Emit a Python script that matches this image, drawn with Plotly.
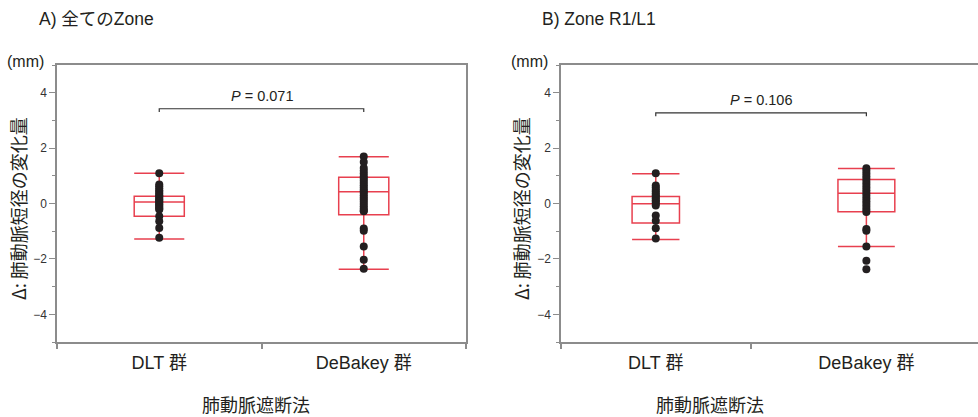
import plotly.graph_objects as go

W, H = 978, 417
FONT = "Liberation Sans, Arial, Noto Sans CJK JP, sans-serif"
JFONT = "Noto Sans CJK JP, Liberation Sans, sans-serif"
TXT = "#231f20"
AX = "#8c8c8c"
RED = "#e8404f"

categories = ["DLT 群", "DeBakey 群"]
panel_titles = ["A) 全てのZone", "B) Zone R1/L1"]
p_labels = ["<i>P</i> = 0.071", "<i>P</i> = 0.106"]
y_ticks = [-4, -2, 0, 2, 4]
y_minor = [-5, -3, -1, 1, 3, 5]
y_title = "Δ: 肺動脈短径の変化量"
x_title = "肺動脈遮断法"

# Box statistics [DLT, DeBakey] per panel
a_q1 = [-0.46, -0.41]
a_median = [0.05, 0.42]
a_q3 = [0.26, 0.95]
a_low = [-1.28, -2.37]
a_high = [1.09, 1.69]

b_q1 = [-0.70, -0.30]
b_median = [-0.01, 0.37]
b_q3 = [0.25, 0.87]
b_low = [-1.30, -1.55]
b_high = [1.07, 1.26]

# Individual points
a_dlt = [1.09, 0.69, 0.62, 0.55, 0.48, 0.42, 0.36, 0.30, 0.25, 0.20, 0.15, 0.10,
         0.06, 0.02, -0.03, -0.08, -0.13, -0.18, -0.22, -0.46, -0.64, -0.88, -1.24]
a_deb = [1.70, 1.50, 1.28, 1.18, 1.08, 0.98, 0.90, 0.82, 0.74, 0.66, 0.58, 0.50,
         0.44, 0.38, 0.30, 0.22, 0.14, 0.06, -0.02, -0.10, -0.18, -0.25, -0.28,
         -0.90, -0.98, -1.55, -2.03, -2.36]
b_dlt = [1.09, 0.65, 0.58, 0.50, 0.43, 0.36, 0.30, 0.24, 0.18, 0.12, 0.06, 0.00,
         -0.07, -0.43, -0.62, -0.89, -1.26]
b_deb = [1.27, 1.18, 1.08, 0.98, 0.88, 0.78, 0.68, 0.58, 0.48, 0.38, 0.28, 0.18,
         0.08, -0.02, -0.12, -0.22, -0.31, -0.92, -0.98, -1.55, -2.07, -2.37]

p_bracket_y = [3.42, 3.27]


def px(x):
    return x / W


def py(y):
    return 1 - y / H


fig = go.Figure()

panels = [
    dict(stats=(a_q1, a_median, a_q3, a_low, a_high), pts=(a_dlt, a_deb),
         xa="x", ya="y", widths=[0.245, 0.245]),
    dict(stats=(b_q1, b_median, b_q3, b_low, b_high), pts=(b_dlt, b_deb),
         xa="x2", ya="y2", widths=[0.225, 0.27]),
]

for p in panels:
    q1, med, q3, lo, hi = p["stats"]
    for i in range(2):
        fig.add_trace(go.Box(
            x=[i], q1=[q1[i]], median=[med[i]], q3=[q3[i]],
            lowerfence=[lo[i]], upperfence=[hi[i]],
            width=p["widths"][i], whiskerwidth=1, boxpoints=False,
            line=dict(color=RED, width=1.5), fillcolor="rgba(0,0,0,0)",
            xaxis=p["xa"], yaxis=p["ya"], showlegend=False, hoverinfo="skip"))
        vals = p["pts"][i]
        fig.add_trace(go.Scatter(
            x=[i] * len(vals), y=vals, mode="markers",
            marker=dict(color=TXT, size=8),
            xaxis=p["xa"], yaxis=p["ya"], showlegend=False, hoverinfo="skip"))

yd = [py(342), py(65)]
xdA = [px(57), px(466)]
xdB = [px(561), 1.0]

common_x = dict(showgrid=False, zeroline=False, showline=True, linecolor=AX,
                linewidth=1.5, ticks="", tickvals=[0, 1], ticktext=categories,
                tickfont=dict(family=FONT, size=18, color=TXT),
                ticklabelstandoff=4)
common_y = dict(domain=yd, range=[-5, 5], tickvals=y_ticks,
                showgrid=False, zeroline=False, showline=True, linecolor=AX,
                linewidth=1.5, ticks="outside", ticklen=6, tickcolor=AX,
                tickwidth=1.2, tickfont=dict(family=FONT, size=12, color="#333"),
                minor=dict(tickvals=y_minor, ticks="outside", ticklen=3,
                           tickcolor=AX, tickwidth=1.2))

fig.update_layout(
    width=W, height=H, margin=dict(l=0, r=0, t=0, b=0),
    paper_bgcolor="white", plot_bgcolor="white",
    font=dict(family=FONT, color=TXT),
    xaxis=dict(domain=xdA, range=[-0.5, 1.5], anchor="y", mirror=True,
               minor=dict(tickvals=[-0.5, 0.5, 1.5], ticks="outside", ticklen=5,
                          tickcolor=AX, tickwidth=1.5),
               **common_x),
    yaxis=dict(anchor="x", mirror=True, **common_y),
    xaxis2=dict(domain=xdB, range=[-0.45, 1.53], anchor="y2", mirror=True,
                minor=dict(tickvals=[-0.45, 0.45], ticks="outside", ticklen=5,
                           tickcolor=AX, tickwidth=1.5),
                **common_x),
    yaxis2=dict(anchor="x2", mirror=False, **common_y),
)

# p-value brackets
for k, (xa, ya) in enumerate([("x", "y"), ("x2", "y2")]):
    yb = p_bracket_y[k]
    fig.add_shape(type="path", xref=xa, yref=ya,
                  path=f"M 0 {yb-0.12} L 0 {yb} L 1 {yb} L 1 {yb-0.12}",
                  line=dict(color="#333", width=1.2))
    fig.add_annotation(x=0.5, y=yb, xref=xa, yref=ya, text=p_labels[k],
                       showarrow=False, yanchor="bottom", yshift=3,
                       font=dict(family=FONT, size=14.5, color=TXT))

anns = [
    (panel_titles[0], px(37), py(19), "left", 0, 17.5, FONT),
    (panel_titles[1], px(540), py(19), "left", 0, 17.5, FONT),
    ("(mm)", px(46), py(62), "right", 0, 16, FONT),
    ("(mm)", px(550), py(62), "right", 0, 16, FONT),
    (y_title, px(18), py(209), "center", -90, 18, JFONT),
    (y_title, px(521), py(209), "center", -90, 18, JFONT),
    (x_title, px(256), py(404), "center", 0, 18, JFONT),
    (x_title, px(710), py(404), "center", 0, 18, JFONT),
]
for text, x, y, xanchor, ang, sz, fam in anns:
    fig.add_annotation(text=text, x=x, y=y, xref="paper", yref="paper",
                       xanchor=xanchor, yanchor="middle", showarrow=False,
                       textangle=ang, font=dict(family=fam, size=sz, color=TXT))

fig.write_html("out.html", config={"displayModeBar": False},
               post_script="document.body.style.margin='0';")
